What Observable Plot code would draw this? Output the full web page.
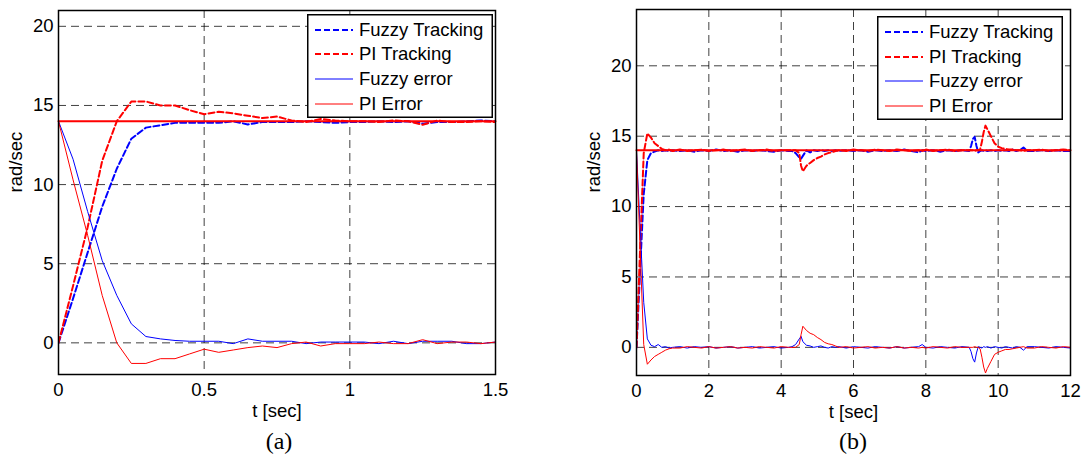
<!DOCTYPE html>
<html><head><meta charset="utf-8">
<script src="https://cdn.jsdelivr.net/npm/d3@7"></script>
<script src="https://cdn.jsdelivr.net/npm/@observablehq/plot@0.6"></script>
<style>
body{margin:0;background:#fff;}
#wrap{position:relative;width:1082px;height:456px;overflow:hidden;font-family:"Liberation Sans",Arial,sans-serif;}
.panel{position:absolute;top:0;}
.cap{position:absolute;top:427px;font-family:"Liberation Serif","Times New Roman",serif;font-size:24px;line-height:28px;transform:translateX(-50%);}
.legend{position:absolute;}
</style></head><body><div id="wrap"></div>
<script>
// ---------- Panel (a) data ----------
const tA = [0,0.05,0.1,0.15,0.2,0.25,0.3,0.35,0.4,0.45,0.5,0.55,0.6,0.65,0.7,0.75,0.8,0.85,0.9,0.95,1.0,1.05,1.1,1.15,1.2,1.25,1.3,1.35,1.4,1.45,1.5];
const fuzzyTrackA = [0,2.8,5.7,8.6,11.0,12.9,13.6,13.75,13.9,13.9,13.9,13.9,14.0,13.8,13.95,13.95,13.95,14.0,13.95,13.9,13.95,13.95,14.0,13.95,14.0,13.85,13.95,13.95,14.0,14.05,14.0];
const piTrackA    = [0,3.6,7.3,11.5,14.0,15.25,15.25,15.0,15.0,14.7,14.45,14.6,14.5,14.35,14.2,14.3,14.05,13.95,14.15,14.05,14.0,14.0,13.95,14.05,14.0,13.78,14.05,13.95,13.95,14.0,13.95];
const fuzzyErrA   = [14,11.6,8.3,5.2,3.0,1.2,0.4,0.25,0.15,0.1,0.1,0.1,-0.05,0.25,0.1,0.1,0.1,-0.05,0.05,0.05,0.05,0.05,-0.05,0.1,-0.05,0.1,0.1,0.1,-0.05,-0.05,0.05];
const piErrA      = [14,10.3,6.8,3.0,0.0,-1.3,-1.3,-1.0,-1.0,-0.7,-0.4,-0.6,-0.45,-0.3,-0.2,-0.3,-0.05,0.05,-0.2,-0.05,-0.05,-0.05,0.05,-0.05,-0.05,0.2,-0.05,0.05,0.05,-0.05,0.05];
const refTA = [0,1.5];
const refVA = [14,14];

// ---------- Panel (b) data ----------
const tB = [0,0.1,0.2,0.3,0.4,0.5,0.6,0.7,0.8,0.9,1.0,
  1.2,1.4,1.6,1.8,2.0,2.2,2.4,2.6,2.8,3.0,3.2,3.4,3.6,3.8,4.0,4.2,
  4.3,4.4,4.5,4.55,4.6,
  4.7,4.8,4.9,5.0,5.1,5.2,5.3,5.4,5.5,5.6,
  5.8,6.0,6.2,6.4,6.6,6.8,7.0,7.2,7.4,7.6,7.8,
  7.9,
  8.0,8.2,8.4,8.6,8.8,9.0,9.2,
  9.25,9.3,9.35,9.4,9.45,9.5,9.55,9.6,9.65,9.7,
  9.8,9.9,10.0,10.1,10.2,10.3,10.4,10.5,10.6,10.7,10.8,
  11.0,11.2,11.4,11.6,11.8,12.0];
const fuzzyTrackB = [0,5.5,10.9,13.3,13.8,13.9,14.0,13.95,14.0,13.95,14.0,
  13.95,14.0,13.9,14.0,13.95,14.05,13.95,14.0,13.9,14.0,13.95,14.0,13.95,13.9,14.0,13.95,
  13.95,13.8,13.5,13.4,13.6,
  14.0,13.85,14.0,13.95,14.0,13.95,14.0,13.95,14.0,13.95,
  14.0,13.95,14.0,13.9,14.0,13.95,14.0,13.95,14.05,13.95,13.85,
  14.0,
  13.95,14.0,13.9,14.0,13.95,14.0,13.95,
  14.3,14.8,14.95,14.3,13.85,13.95,14.0,13.95,14.0,13.95,
  14.0,13.95,14.0,13.95,14.0,13.95,14.05,13.95,14.0,14.2,13.95,
  13.95,14.0,13.95,14.0,13.95,13.95];
const piTrackB = [0,7.0,13.8,15.2,14.9,14.5,14.3,14.1,14.0,14.05,13.95,
  14.05,13.95,14.0,14.05,13.95,14.0,14.05,13.95,14.0,14.05,13.95,14.0,14.05,13.95,14.0,14.0,
  14.0,14.0,13.8,12.9,12.5,
  12.9,13.1,13.3,13.45,13.55,13.7,13.8,13.85,13.95,14.0,
  13.95,14.05,14.0,13.95,14.05,14.0,13.95,14.05,14.0,13.95,14.0,
  13.95,
  14.05,13.95,14.0,14.05,13.95,14.0,14.0,
  14.0,14.0,13.95,14.0,14.0,14.05,14.6,15.3,15.75,15.5,
  15.0,14.5,14.25,14.15,14.1,14.05,14.05,14.0,14.0,13.95,14.0,
  14.0,14.05,13.95,14.0,14.05,14.0];
const fuzzyErrB = [14,8.5,3.2,0.6,0.15,0.05,0.2,0.0,0.05,-0.05,0.0,
  0.05,-0.05,0.05,0.0,0.05,-0.05,0.0,0.05,-0.05,0.0,0.05,-0.05,0.0,0.05,-0.05,0.0,
  0.05,0.2,0.6,0.78,0.4,
  0.15,0.1,0.0,0.05,0.1,0.0,-0.05,0.05,0.0,0.05,
  -0.05,0.05,0.0,-0.05,0.05,0.0,-0.05,0.05,-0.05,0.0,0.05,
  0.2,
  0.0,-0.05,0.05,0.0,-0.05,0.05,0.0,
  -0.3,-0.8,-1.05,-0.4,0.05,0.0,-0.05,0.05,0.0,0.05,
  -0.05,0.05,0.0,-0.05,0.05,0.0,-0.05,0.05,0.0,-0.2,0.05,
  0.05,0.0,-0.05,0.05,0.0,-0.05];
const piErrB = [14,7.0,0.2,-1.2,-0.9,-0.65,-0.5,-0.35,-0.2,-0.1,-0.05,
  -0.05,0.05,0.0,-0.05,0.05,-0.05,0.0,0.05,-0.05,0.0,-0.05,0.05,0.0,-0.05,0.05,0.0,
  0.0,0.0,0.2,0.9,1.5,
  1.2,1.0,0.9,0.7,0.55,0.35,0.25,0.2,0.1,0.0,
  0.05,-0.05,0.0,0.05,-0.05,0.0,-0.05,0.05,-0.05,0.0,-0.05,
  0.0,
  -0.05,0.05,0.0,-0.05,0.05,0.0,0.0,
  0.0,0.0,0.05,0.0,0.0,-0.1,-0.7,-1.4,-1.82,-1.5,
  -1.0,-0.5,-0.35,-0.25,-0.15,-0.15,-0.1,-0.05,0.0,0.05,-0.05,
  -0.05,0.05,0.0,-0.05,0.05,0.0];
const refTB = [0,12];
const refVB = [14,14];

// ---------- labels ----------
const seriesNames = ["Fuzzy Tracking","PI Tracking","Fuzzy error","PI Error"];
const seriesColors = ["#0000ff","#ff0000","#0000ff","#ff0000"];
const seriesDash = ["6,3","6,3",null,null];
const seriesWidth = [2,2,1,1];
const xTicksA = [0,0.5,1,1.5];
const xTicksB = [0,2,4,6,8,10,12];
const yTicks = [0,5,10,15,20];
const xLabel = "t [sec]";
const yLabel = "rad/sec";
const captions = ["(a)","(b)"];

const FS = 18.5;
const wrap = document.getElementById("wrap");

function makePanel(cfg) {
  const series = [cfg.fT, cfg.pT, cfg.fE, cfg.pE];
  const marks = [
    Plot.gridX(cfg.xTicks.slice(1, -1), {stroke: "#000", strokeOpacity: 0.75, strokeWidth: 1, strokeDasharray: "8,5"}),
    Plot.gridY(yTicks, {stroke: "#000", strokeOpacity: 0.75, strokeWidth: 1, strokeDasharray: "8,5"}),
  ];
  series.forEach((vals, k) => {
    const data = cfg.t.map((x, i) => ({t: x, v: vals[i]}));
    marks.push(Plot.line(data, {x: "t", y: "v", stroke: seriesColors[k], strokeWidth: seriesWidth[k], strokeDasharray: seriesDash[k], clip: true}));
  });
  const refData = cfg.refT.map((x, i) => ({t: x, v: cfg.refV[i]}));
  marks.push(Plot.line(refData, {x: "t", y: "v", stroke: "#ff0000", strokeWidth: 2}));
  marks.push(Plot.axisX(cfg.xTicks, {tickSize: 0, tickPadding: 8, tickFormat: d => String(d), label: null, fontSize: FS}));
  marks.push(Plot.axisY(yTicks, {tickSize: 0, tickPadding: 5, tickFormat: d => String(d), label: null, fontSize: FS}));
  marks.push(Plot.text([xLabel], {text: d => d, frameAnchor: "bottom", dy: 42, fontSize: FS}));
  marks.push(Plot.text([yLabel], {text: d => d, frameAnchor: "left", dx: -42, rotate: -90, fontSize: FS}));
  marks.push(Plot.frame({stroke: "#000", strokeWidth: 1.5}));
  const chart = Plot.plot({
    width: cfg.width, height: cfg.height,
    marginLeft: cfg.ml, marginRight: cfg.mr, marginTop: cfg.mt, marginBottom: cfg.mb,
    x: {domain: cfg.xDomain, label: null},
    y: {domain: cfg.yDomain, label: null},
    style: {background: "transparent", fontFamily: "'Liberation Sans', Arial, sans-serif", fontSize: FS + "px", color: "#000", overflow: "visible"},
    marks
  });
  const div = document.createElement("div");
  div.className = "panel";
  div.style.left = cfg.left + "px";
  div.appendChild(chart);
  wrap.appendChild(div);

  // legend box
  const lg = cfg.legend;
  const svg = d3.select(wrap).append("svg").attr("class", "legend")
    .style("left", lg.x + "px").style("top", lg.y + "px")
    .attr("width", lg.w).attr("height", lg.h);
  svg.append("rect").attr("x", 0.75).attr("y", 0.75).attr("width", lg.w - 1.5).attr("height", lg.h - 1.5)
    .attr("fill", "#fff").attr("stroke", "#000").attr("stroke-width", 1.5);
  seriesNames.forEach((name, k) => {
    const yy = lg.rows[k];
    svg.append("line").attr("x1", 8).attr("x2", 46).attr("y1", yy).attr("y2", yy)
      .attr("stroke", seriesColors[k]).attr("stroke-width", seriesWidth[k])
      .attr("stroke-dasharray", seriesDash[k]);
    svg.append("text").attr("x", 52).attr("y", yy).attr("dy", "0.35em")
      .attr("font-family", "'Liberation Sans', Arial, sans-serif").attr("font-size", FS)
      .text(name);
  });

  const cap = document.createElement("div");
  cap.className = "cap";
  cap.style.left = cfg.capX + "px";
  cap.textContent = cfg.caption;
  wrap.appendChild(cap);
}

makePanel({
  t: tA, fT: fuzzyTrackA, pT: piTrackA, fE: fuzzyErrA, pE: piErrA, refT: refTA, refV: refVA,
  xTicks: xTicksA, xDomain: [0, 1.5], yDomain: [-2, 21],
  left: 0, width: 540, height: 420, ml: 58, mr: 45, mt: 10, mb: 46,
  legend: {x: 307, y: 14, w: 186, h: 104, rows: [16, 40, 65, 90]},
  capX: 279, caption: captions[0]
});
makePanel({
  t: tB, fT: fuzzyTrackB, pT: piTrackB, fE: fuzzyErrB, pE: piErrB, refT: refTB, refV: refVB,
  xTicks: xTicksB, xDomain: [0, 12], yDomain: [-2, 24],
  left: 540, width: 542, height: 421, ml: 96, mr: 12, mt: 9, mb: 46,
  legend: {x: 877, y: 16, w: 186, h: 104, rows: [16, 41, 65, 90]},
  capX: 853, caption: captions[1]
});
</script></body></html>
